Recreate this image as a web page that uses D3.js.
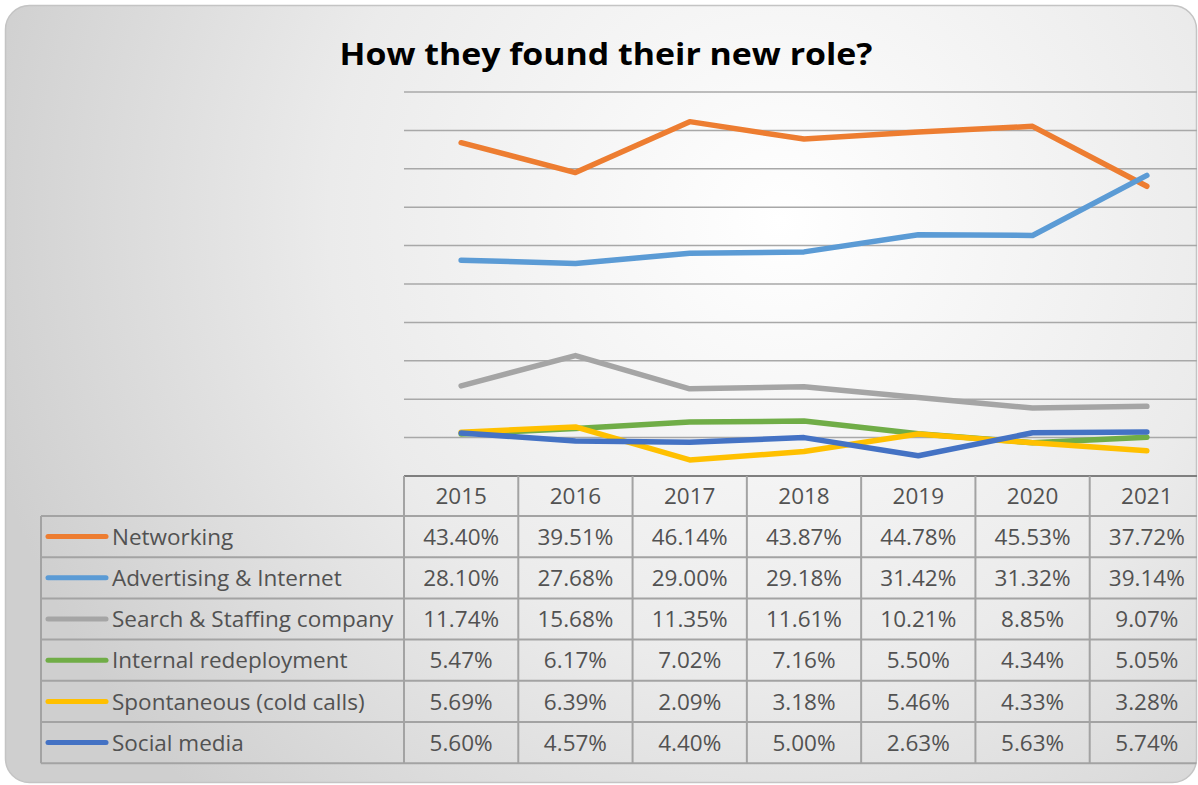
<!DOCTYPE html>
<html><head><meta charset="utf-8">
<script src="https://cdn.jsdelivr.net/npm/d3@7"></script>
<style>html,body{margin:0;padding:0;background:#fff;}svg{display:block;}</style>
</head><body>
<svg id="chart" width="1198" height="785"></svg>
<script>
const title = "How they found their new role?";
const years = ["2015","2016","2017","2018","2019","2020","2021"];
const seriesNames = ["Networking","Advertising & Internet","Search & Staffing company","Internal redeployment","Spontaneous (cold calls)","Social media"];
const networking   = [43.40, 39.51, 46.14, 43.87, 44.78, 45.53, 37.72];
const advertising  = [28.10, 27.68, 29.00, 29.18, 31.42, 31.32, 39.14];
const search       = [11.74, 15.68, 11.35, 11.61, 10.21, 8.85, 9.07];
const internal     = [5.47, 6.17, 7.02, 7.16, 5.50, 4.34, 5.05];
const spontaneous  = [5.69, 6.39, 2.09, 3.18, 5.46, 4.33, 3.28];
const social       = [5.60, 4.57, 4.40, 5.00, 2.63, 5.63, 5.74];
const gridTicks = [5,10,15,20,25,30,35,40,45,50];
const colors = ["#ED7D31","#5B9BD5","#A5A5A5","#70AD47","#FFC000","#4472C4"];

const seriesValues = [networking, advertising, search, internal, spontaneous, social];
const svg = d3.select("#chart");
const defs = svg.append("defs");
const rg = defs.append("radialGradient").attr("id","bg").attr("gradientUnits","userSpaceOnUse")
  .attr("cx",780).attr("cy",220).attr("r",820);
rg.append("stop").attr("offset","0").attr("stop-color","#ffffff");
rg.append("stop").attr("offset","0.55").attr("stop-color","#ebebeb");
rg.append("stop").attr("offset","1").attr("stop-color","#cfcfcf");
defs.append("clipPath").attr("id","card").append("rect")
  .attr("x",5).attr("y",5).attr("width",1192).attr("height",778).attr("rx",24);

svg.append("rect").attr("x",5.5).attr("y",5.5).attr("width",1191).attr("height",777).attr("rx",24)
  .attr("fill","url(#bg)").attr("stroke","#c4c4c4").attr("stroke-width",1.5);

const g = svg.append("g").attr("clip-path","url(#card)");

const x = d3.scaleBand().domain(years).range([404, 1204]).padding(0);
const y = d3.scaleLinear().domain([0,50]).range([476, 92]);

// gridlines
g.append("g").selectAll("line").data(gridTicks).join("line")
  .attr("x1",404).attr("x2",1204)
  .attr("y1",d=>y(d)).attr("y2",d=>y(d))
  .attr("stroke","#a8a8a8").attr("stroke-width",1.5);

// title
svg.append("text").attr("x",606).attr("y",65).attr("text-anchor","middle")
  .attr("font-family","'Open Sans', sans-serif").attr("font-weight",700).attr("font-size",31)
  .attr("textLength",533).attr("lengthAdjust","spacingAndGlyphs")
  .attr("fill","#000").text(title);

// lines
const line = d3.line().x((d,i)=>x(years[i])+x.bandwidth()/2).y(d=>y(d)).curve(d3.curveLinear);
g.append("g").selectAll("path").data(seriesValues).join("path")
  .attr("d",d=>line(d)).attr("fill","none")
  .attr("stroke",(d,i)=>colors[i]).attr("stroke-width",5.5)
  .attr("stroke-linejoin","round").attr("stroke-linecap","round");

// data table
const tableTop = y(0), headerH = 40, rowH = 41.2;
const tg = g.append("g");
const lineCol = "#a3a3a3";
const rowsTop = tableTop + headerH;
const tableBottom = rowsTop + rowH*seriesNames.length;
tg.append("line").attr("x1",404).attr("x2",1204).attr("y1",tableTop).attr("y2",tableTop)
  .attr("stroke","#7f7f7f").attr("stroke-width",2);
d3.range(seriesNames.length+1).forEach(k=>{
  tg.append("line").attr("x1",41).attr("x2",1204)
    .attr("y1",rowsTop+k*rowH).attr("y2",rowsTop+k*rowH)
    .attr("stroke",lineCol).attr("stroke-width",2);
});
tg.append("line").attr("x1",41).attr("x2",41).attr("y1",rowsTop).attr("y2",tableBottom)
  .attr("stroke",lineCol).attr("stroke-width",2);
years.forEach(yr=>{
  tg.append("line").attr("x1",x(yr)).attr("x2",x(yr)).attr("y1",tableTop).attr("y2",tableBottom)
    .attr("stroke",lineCol).attr("stroke-width",2);
});
const font = "'Open Sans', sans-serif";
const txtCol = "#525252";
const fs = 22.5;
tg.selectAll("text.hdr").data(years).join("text").attr("class","hdr")
  .attr("x",d=>x(d)+x.bandwidth()/2).attr("y",tableTop+headerH/2).attr("dy","0.36em")
  .attr("text-anchor","middle").attr("font-family",font).attr("font-size",fs).attr("fill",txtCol)
  .text(d=>d);
seriesNames.forEach((name,si)=>{
  const cy = rowsTop + si*rowH + rowH/2;
  tg.append("line").attr("x1",48).attr("x2",106).attr("y1",cy).attr("y2",cy)
    .attr("stroke",colors[si]).attr("stroke-width",5).attr("stroke-linecap","round");
  tg.append("text").attr("x",112).attr("y",cy).attr("dy","0.36em")
    .attr("font-family",font).attr("font-size",fs).attr("fill",txtCol).text(name);
  seriesValues[si].forEach((v,i)=>{
    tg.append("text").attr("x",x(years[i])+x.bandwidth()/2).attr("y",cy).attr("dy","0.36em")
      .attr("text-anchor","middle").attr("font-family",font).attr("font-size",fs).attr("fill",txtCol)
      .text(v.toFixed(2)+"%");
  });
});
</script>
</body></html>
